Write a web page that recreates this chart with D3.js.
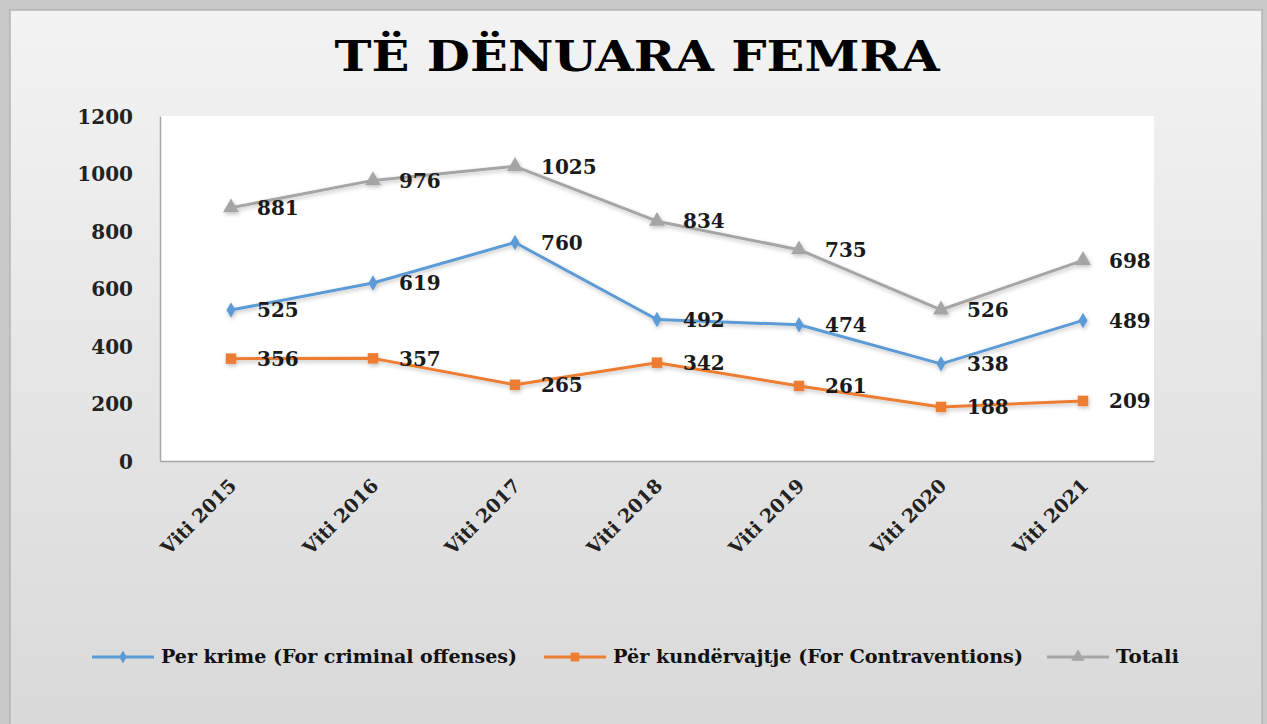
<!DOCTYPE html>
<html><head><meta charset="utf-8">
<script src="https://cdn.jsdelivr.net/npm/d3@7"></script>
<style>html,body{margin:0;padding:0;background:#c8c8c8;}svg{display:block;}</style>
</head><body>
<svg id="chart" width="1267" height="724"></svg>
<script>
const categories = ["Viti 2015","Viti 2016","Viti 2017","Viti 2018","Viti 2019","Viti 2020","Viti 2021"];
const crimes = [525, 619, 760, 492, 474, 338, 489];
const contraventions = [356, 357, 265, 342, 261, 188, 209];
const totals = [881, 976, 1025, 834, 735, 526, 698];
const yTicks = [0, 200, 400, 600, 800, 1000, 1200];
const seriesNames = ["Per krime (For criminal offenses)", "Për kundërvajtje (For Contraventions)", "Totali"];
const title = "TË DËNUARA FEMRA";

const series = [
  {name: seriesNames[0], values: crimes, color: "#5b9bd5", symbol: d3.symbolDiamond, size: 70},
  {name: seriesNames[1], values: contraventions, color: "#ed7d31", symbol: d3.symbolSquare, size: 110},
  {name: seriesNames[2], values: totals, color: "#a5a5a5", symbol: d3.symbolTriangle, size: 110}
];

const svg = d3.select("#chart");
const font = "'DejaVu Serif', 'Liberation Serif', serif";

const defs = svg.append("defs");
const grad = defs.append("linearGradient").attr("id","bg").attr("x1",0).attr("y1",0).attr("x2",0).attr("y2",1);
grad.append("stop").attr("offset","0%").attr("stop-color","#f3f3f3");
grad.append("stop").attr("offset","100%").attr("stop-color","#d9d9d9");
const glow = defs.append("filter").attr("id","glow").attr("x","-20%").attr("y","-20%").attr("width","140%").attr("height","140%");
glow.append("feGaussianBlur").attr("in","SourceAlpha").attr("stdDeviation",2).attr("result","b");
glow.append("feOffset").attr("in","b").attr("dx",1).attr("dy",2).attr("result","o");
glow.append("feComponentTransfer").attr("in","o").attr("result","s").append("feFuncA").attr("type","linear").attr("slope",0.25);
const m = glow.append("feMerge"); m.append("feMergeNode").attr("in","s"); m.append("feMergeNode").attr("in","SourceGraphic");

// panel
svg.append("rect").attr("x",10).attr("y",10).attr("width",1252).attr("height",720)
  .attr("fill","url(#bg)").attr("stroke","#b4b4b4").attr("stroke-width",1.5);

// title
svg.append("text").attr("x",637).attr("y",71).attr("text-anchor","middle")
  .attr("font-family",font).attr("font-weight","bold").attr("font-size",42)
  .attr("textLength",605).attr("lengthAdjust","spacingAndGlyphs")
  .attr("fill","#000").text(title);

const plot = {left:160, top:116, right:1154, bottom:461};
svg.append("rect").attr("x",plot.left).attr("y",plot.top).attr("width",plot.right-plot.left).attr("height",plot.bottom-plot.top).attr("fill","#fff");

const x = d3.scalePoint().domain(categories).range([plot.left, plot.right]).padding(0.5);
const y = d3.scaleLinear().domain([0,1200]).range([plot.bottom, plot.top]);

// y axis
const yAxis = svg.append("g").attr("transform",`translate(${plot.left},0)`)
  .call(d3.axisLeft(y).tickValues(yTicks).tickFormat(d3.format("d")).tickSize(0).tickPadding(27));
yAxis.select(".domain").attr("stroke","#a6a6a6").attr("stroke-width",1.5);
yAxis.selectAll("text").attr("font-family",font).attr("font-weight","bold").attr("font-size",20).attr("fill","#222").attr("dy","0.35em");

// x axis
const xAxis = svg.append("g").attr("transform",`translate(0,${plot.bottom})`)
  .call(d3.axisBottom(x).tickSize(0).tickPadding(0));
xAxis.select(".domain").attr("stroke","#a6a6a6").attr("stroke-width",1.5);
xAxis.selectAll("text").attr("font-family",font).attr("font-weight","bold").attr("font-size",19).attr("fill","#222")
  .attr("text-anchor","end").attr("dy",0).attr("y",0)
  .attr("transform","translate(6,26) rotate(-45)");

// lines
const line = d3.line().x((d,i)=>x(categories[i])).y(d=>y(d));
series.forEach(s=>{
  const g = svg.append("g").attr("filter","url(#glow)");
  g.append("path").datum(s.values).attr("d",line).attr("fill","none").attr("stroke",s.color).attr("stroke-width",3).attr("stroke-linejoin","round");
  g.selectAll("path.m").data(s.values).enter().append("path").attr("class","m")
    .attr("d",d3.symbol().type(s.symbol).size(s.size))
    .attr("transform",(d,i)=>`translate(${x(categories[i])},${y(d)})`)
    .attr("fill",s.color);
});
series.forEach(s=>{
  svg.append("g").selectAll("text").data(s.values).enter().append("text")
    .attr("x",(d,i)=>x(categories[i])+26).attr("y",d=>y(d)).attr("dy","0.36em")
    .attr("font-family",font).attr("font-weight","bold").attr("font-size",20).attr("fill","#1a1a1a")
    .text(d=>d);
});

// legend
const legendX = [92, 544, 1047];
const legendTextW = [356, 410, 63];
const legendY = 657;
series.forEach((s,i)=>{
  const g = svg.append("g").attr("transform",`translate(${legendX[i]},${legendY})`);
  g.append("line").attr("x1",0).attr("x2",62).attr("stroke",s.color).attr("stroke-width",3);
  g.append("path").attr("d",d3.symbol().type(s.symbol).size(s.size*0.7)).attr("transform","translate(31,0)").attr("fill",s.color);
  g.append("text").attr("x",69).attr("y",0).attr("dy","0.35em")
    .attr("font-family",font).attr("font-weight","bold").attr("font-size",18.5).attr("fill","#111")
    .attr("textLength",legendTextW[i]).attr("lengthAdjust","spacingAndGlyphs").text(s.name);
});
</script>
</body></html>
